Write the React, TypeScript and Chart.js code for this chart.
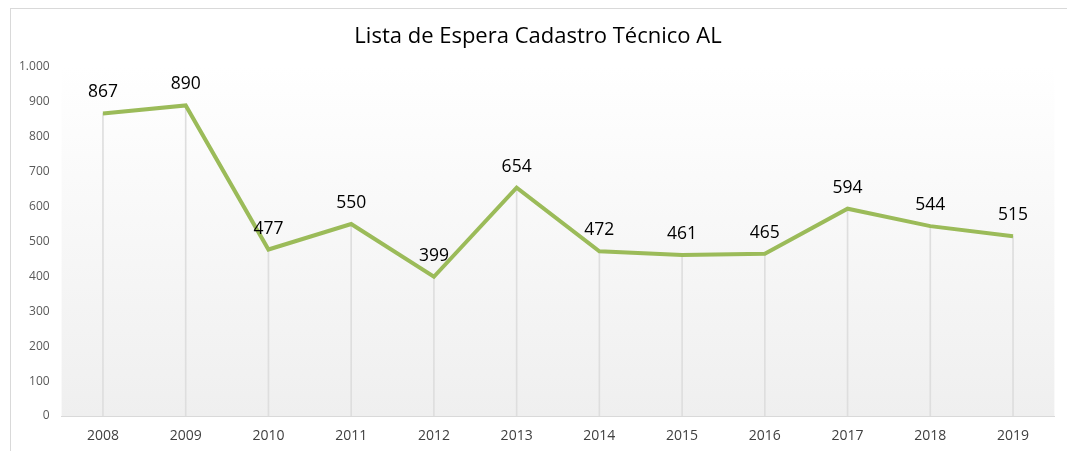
import React, { useEffect, useRef } from "react";
import { Chart, registerables } from "chart.js";

Chart.register(...registerables);

const TITLE = "Lista de Espera Cadastro Técnico AL";
const YEARS = ["2008", "2009", "2010", "2011", "2012", "2013", "2014", "2015", "2016", "2017", "2018", "2019"];
const WAITING = [867, 890, 477, 550, 399, 654, 472, 461, 465, 594, 544, 515];
const Y_MIN = 0;
const Y_MAX = 1000;
const Y_STEP = 100;

const FONT = "'Open Sans', 'Noto Sans', sans-serif";

const fmt = (v: number) => {
  const s = String(Math.round(v));
  return s.replace(/\B(?=(\d{3})+(?!\d))/g, ".");
};

const bgPlugin = {
  id: "plotBg",
  beforeDraw(chart: any) {
    const { ctx, chartArea } = chart;
    if (!chartArea) return;
    const g = ctx.createLinearGradient(0, chartArea.top, 0, chartArea.bottom);
    g.addColorStop(0, "#ffffff");
    g.addColorStop(1, "#efefef");
    ctx.save();
    ctx.fillStyle = g;
    ctx.fillRect(chartArea.left, chartArea.top, chartArea.right - chartArea.left, chartArea.bottom - chartArea.top);
    ctx.restore();
  },
};

const titlePlugin = {
  id: "centerTitle",
  afterDraw(chart: any) {
    const ctx = chart.ctx;
    ctx.save();
    ctx.font = `22px ${FONT}`;
    ctx.fillStyle = "#000000";
    ctx.textAlign = "center";
    ctx.textBaseline = "middle";
    ctx.fillText(TITLE, 538, 37);
    ctx.restore();
  },
};

const labelPlugin = {
  id: "valueLabels",
  afterDatasetsDraw(chart: any) {
    const meta = chart.getDatasetMeta(1);
    const ctx = chart.ctx;
    ctx.save();
    ctx.font = `17.5px ${FONT}`;
    ctx.fillStyle = "#000000";
    ctx.textAlign = "center";
    ctx.textBaseline = "middle";
    meta.data.forEach((pt: any, i: number) => {
      ctx.fillText(fmt(WAITING[i]), pt.x, pt.y - 21);
    });
    ctx.restore();
  },
};

export default function App() {
  const ref = useRef<HTMLCanvasElement | null>(null);
  useEffect(() => {
    if (!ref.current) return;
    const chart = new Chart(ref.current, {
      type: "line",
      data: {
        labels: YEARS,
        datasets: [
          {
            type: "bar",
            data: WAITING,
            backgroundColor: "#dedede",
            barThickness: 1,
            order: 2,
          } as any,
          {
            type: "line",
            data: WAITING,
            borderColor: "#9bbb59",
            borderWidth: 4,
            pointRadius: 0,
            tension: 0,
            fill: false,
            order: 1,
          },
        ],
      },
      options: {
        animation: false,
        responsive: false,
        maintainAspectRatio: false,
        layout: { padding: { left: 0, right: 12.6, top: 67, bottom: 0 } },
        plugins: {
          legend: { display: false },
          tooltip: { enabled: false },
          title: { display: false },
        },
        scales: {
          x: {
            offset: true,
            grid: { display: false, drawTicks: false },
            border: { display: true, color: "#d9d9d9", width: 1 },
            ticks: { color: "#404040", font: { family: FONT, size: 14 }, padding: 12 },
            afterFit(scale: any) {
              scale.height = 35;
            },
          },
          y: {
            min: Y_MIN,
            max: Y_MAX,
            grid: { display: false, drawTicks: false },
            border: { display: false },
            ticks: {
              stepSize: Y_STEP,
              color: "#595959",
              font: { family: FONT, size: 12 },
              padding: 12,
              callback: (v: any) => fmt(Number(v)),
            },
            afterFit(scale: any) {
              scale.width = 61.6;
            },
          },
        },
      },
      plugins: [bgPlugin, labelPlugin, titlePlugin],
    });
    return () => chart.destroy();
  }, []);

  return (
    <div style={{ position: "fixed", left: 0, top: 0, width: 1067, height: 451, overflow: "hidden", background: "#fff" }}>
      <div
        style={{
          position: "absolute",
          left: 10,
          top: 8,
          width: 1100,
          height: 500,
          border: "1px solid #d9d9d9",
          boxSizing: "border-box",
        }}
      />
      <canvas ref={ref} width={1067} height={451} style={{ position: "absolute", left: 0, top: 0, display: "block" }} />
    </div>
  );
}
